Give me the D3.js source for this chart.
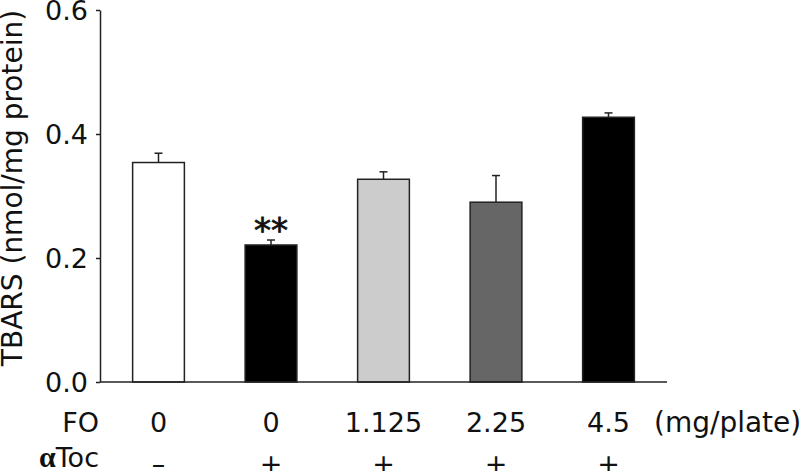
<!DOCTYPE html>
<html>
<head>
<meta charset="utf-8">
<script src="https://d3js.org/d3.v7.min.js"></script>
<style>
  body { margin: 0; background: #fff; }
  svg text { font-family: "DejaVu Sans", Verdana, sans-serif; fill: #111; }
</style>
</head>
<body>
<svg id="chart" width="812" height="471"></svg>
<script>
// data
var groups = ["g1", "g2", "g3", "g4", "g5"];
var foLabels = ["0", "0", "1.125", "2.25", "4.5"];
var tocLabels = ["\u2013", "+", "+", "+", "+"];
var tbars = [0.354, 0.221, 0.327, 0.290, 0.427];
var sem = [0.015, 0.008, 0.012, 0.043, 0.007];
var fills = ["#ffffff", "#000000", "#cccccc", "#666666", "#000000"];
var yTicks = [0.0, 0.2, 0.4, 0.6];

var svg = d3.select("#chart");

var x = d3.scaleBand().domain(groups).range([100, 667])
    .paddingInner(0.54).paddingOuter(0.29);
var y = d3.scaleLinear().domain([0, 0.6]).range([382, 10]);

// bars
svg.append("g")
  .selectAll("rect")
  .data(groups)
  .enter()
  .append("rect")
  .attr("x", function(d) { return x(d); })
  .attr("y", function(d, i) { return y(tbars[i]); })
  .attr("width", x.bandwidth())
  .attr("height", function(d, i) { return y(0) - y(tbars[i]); })
  .style("fill", function(d, i) { return fills[i]; })
  .style("stroke", "#222")
  .style("stroke-width", 1.5);

// error bars (upper only)
var eb = svg.append("g").style("stroke", "#222").style("stroke-width", 1.5);
groups.forEach(function(d, i) {
  var cx = x(d) + x.bandwidth() / 2;
  eb.append("line")
    .attr("x1", cx).attr("x2", cx)
    .attr("y1", y(tbars[i])).attr("y2", y(tbars[i] + sem[i]));
  eb.append("line")
    .attr("x1", cx - 4).attr("x2", cx + 4)
    .attr("y1", y(tbars[i] + sem[i])).attr("y2", y(tbars[i] + sem[i]));
});

// significance marker
svg.append("text")
  .attr("x", x("g2") + x.bandwidth() / 2)
  .attr("y", y(tbars[1] + sem[1]) + 2)
  .attr("text-anchor", "middle")
  .attr("font-size", "34px")
  .style("stroke", "#111").style("stroke-width", 0.8)
  .text("**");

// y axis
var yAxis = svg.append("g")
  .attr("transform", "translate(100,0)")
  .call(d3.axisLeft(y).tickValues(yTicks).tickFormat(d3.format(".1f")).tickSize(4).tickSizeOuter(0));
yAxis.select(".domain").style("stroke", "#222").style("stroke-width", 1.5);
yAxis.selectAll(".tick line").style("stroke", "#222").style("stroke-width", 1.5);
yAxis.selectAll(".tick text")
  .attr("x", -12)
  .attr("dy", "0.36em")
  .attr("font-size", "27px")
  .style("font-family", "'DejaVu Sans', Verdana, sans-serif");

// x axis line
svg.append("line")
  .attr("x1", 100).attr("x2", 667)
  .attr("y1", y(0)).attr("y2", y(0))
  .style("stroke", "#222").style("stroke-width", 1.5);

// y title
svg.append("text")
  .attr("transform", "translate(22,188) rotate(-90)")
  .attr("text-anchor", "middle")
  .attr("font-size", "28px")
  .text("TBARS (nmol/mg protein)");

// FO row
svg.append("text").attr("x", 99).attr("y", 432).attr("text-anchor", "end")
  .attr("font-size", "27px").text("FO");
svg.append("g").selectAll("text")
  .data(groups).enter().append("text")
  .attr("x", function(d) { return x(d) + x.bandwidth() / 2; })
  .attr("y", 432)
  .attr("text-anchor", "middle")
  .attr("font-size", "27px")
  .text(function(d, i) { return foLabels[i]; });
svg.append("text").attr("x", 654).attr("y", 432).attr("font-size", "28px").text("(mg/plate)");

// aToc row
var toc = svg.append("text").attr("x", 99).attr("y", 467).attr("text-anchor", "end")
  .attr("font-size", "27px");
toc.append("tspan").attr("font-weight", "bold")
  .style("font-family", "'Liberation Serif', serif").attr("font-size", "30px").text("\u03b1");
toc.append("tspan").text("Toc");
svg.append("g").selectAll("text")
  .data(groups).enter().append("text")
  .attr("x", function(d) { return x(d) + x.bandwidth() / 2; })
  .attr("y", 473)
  .attr("text-anchor", "middle")
  .attr("font-size", "27px")
  .text(function(d, i) { return tocLabels[i]; });
</script>
</body>
</html>
